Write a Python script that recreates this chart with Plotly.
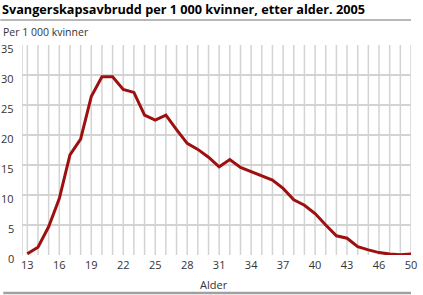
import plotly.graph_objects as go

ages = list(range(13, 50))
rates = [0.2, 1.3, 4.7, 9.4, 16.7, 19.3, 26.4, 29.7, 29.7, 27.6, 27.1,
         23.3, 22.5, 23.3, 20.9, 18.6, 17.6, 16.3, 14.7, 15.9, 14.6, 13.9,
         13.3, 12.5, 11.1, 9.2, 8.3, 6.9, 5.0, 3.2, 2.8, 1.4, 0.85, 0.4,
         0.15, 0.05, 0.15]
tick_vals = [13, 16, 19, 22, 25, 28, 31, 34, 37, 40, 43, 46, 49]
tick_text = ["13", "16", "19", "22", "25", "28", "31", "34", "37", "40", "43", "46", "50"]
y_ticks = [0, 5, 10, 15, 20, 25, 30, 35]

title = "Svangerskapsavbrudd per 1 000 kvinner, etter alder. 2005"
y_title = "Per 1 000 kvinner"
x_title = "Alder"

FONT = "Open Sans"
grid = "#d3d3d3"
txt = "#333333"

fig = go.Figure()
fig.add_trace(go.Scatter(x=ages, y=rates, mode="lines",
                         line=dict(color="#9e1010", width=3), hoverinfo="skip"))

fig.update_layout(
    width=423, height=295,
    margin=dict(l=22, r=6, t=45, b=40),
    paper_bgcolor="white", plot_bgcolor="white",
    showlegend=False,
    font=dict(family=FONT, size=11, color=txt),
    xaxis=dict(range=[12.5, 49], tickvals=tick_vals, ticktext=tick_text,
               showgrid=False, zeroline=False, showline=False,
               ticks="", tickfont=dict(size=11, color=txt),
               ticklabelstandoff=2, ticklabeloverflow="allow", fixedrange=True),
    yaxis=dict(range=[0, 35], tickvals=y_ticks, showgrid=True, gridcolor=grid,
               gridwidth=1.5, zeroline=False, showline=False, ticks="",
               showticklabels=False, fixedrange=True),
)

# y tick labels (slightly below their gridlines, as in the reference)
for v in y_ticks:
    fig.add_annotation(text=str(v), xref="paper", yref="y", x=-6/395, y=v,
                       xanchor="right", yanchor="middle", yshift=-3,
                       showarrow=False, font=dict(family=FONT, size=11, color=txt))

# vertical gridlines at every age
for a in range(13, 50):
    fig.add_shape(type="line", xref="x", yref="y", x0=a, x1=a, y0=0, y1=35,
                  line=dict(color=grid, width=1.5), layer="below")
# left border
fig.add_shape(type="line", xref="x", yref="y", x0=12.5, x1=12.5, y0=0, y1=35,
              line=dict(color=grid, width=1.5), layer="below")

# title and separator lines
fig.add_annotation(text="<b>" + title + "</b>", xref="paper", yref="paper",
                   x=-22/395, y=1 + 36/210, xanchor="left", yanchor="middle",
                   showarrow=False, font=dict(family=FONT, size=12.7, color="#000000"))
fig.add_shape(type="line", xref="paper", yref="paper",
              x0=-22/395, x1=1, y0=1 + 25/210, y1=1 + 25/210,
              line=dict(color="#a0a0a0", width=1.5))
fig.add_annotation(text=y_title, xref="paper", yref="paper",
                   x=-21/395, y=1 + 13/210, xanchor="left", yanchor="middle",
                   showarrow=False, font=dict(family=FONT, size=10.5, color=txt))
fig.add_annotation(text=x_title, xref="paper", yref="paper",
                   x=(217-22)/395, y=-29/210, xanchor="center", yanchor="middle",
                   showarrow=False, font=dict(family=FONT, size=11, color=txt))
fig.add_shape(type="line", xref="paper", yref="paper",
              x0=-19/395, x1=1, y0=-38/210, y1=-38/210,
              line=dict(color="#a0a0a0", width=2.5))

fig.write_html("out.html")
